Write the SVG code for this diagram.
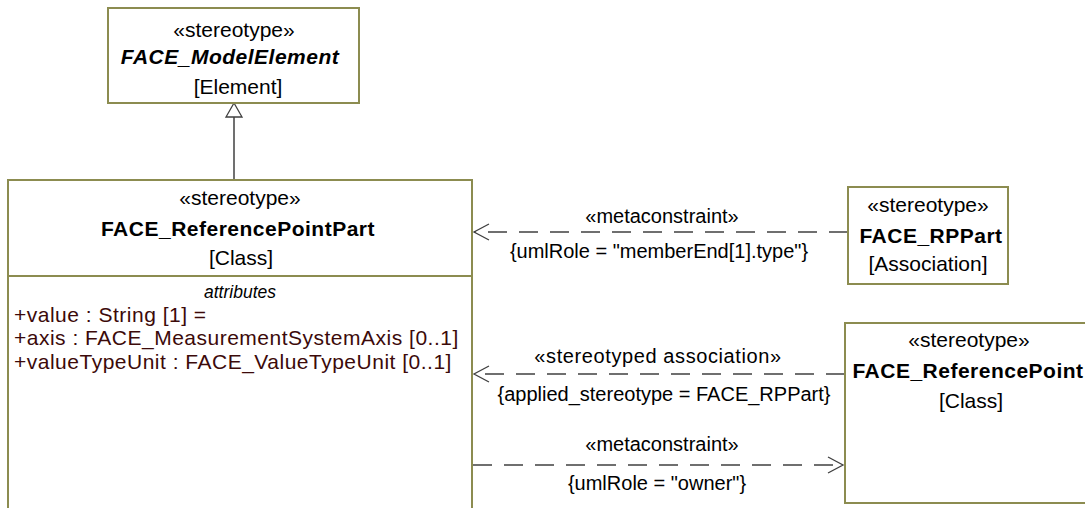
<svg xmlns="http://www.w3.org/2000/svg" width="1085" height="508" viewBox="0 0 1085 508">
<style>
.box{fill:#fff;stroke:#8c8c50;stroke-width:2}
text{font-family:"Liberation Sans",Arial,sans-serif;font-size:21px;fill:#000}
.c{text-anchor:middle}
.ls{letter-spacing:0.5px}
.b{font-weight:bold}
.bi{font-weight:bold;font-style:italic}
.attr{fill:#3c0a0a;letter-spacing:0.5px}
.it{font-style:italic;font-size:17.5px}
.lbl{font-size:20px}
.dash{fill:none;stroke:#404040;stroke-width:1.3;stroke-dasharray:19 12}
.ah{fill:none;stroke:#404040;stroke-width:1.3}
</style>
<rect width="1085" height="508" fill="#fff"/>
<g id="connectors">
<line x1="234" y1="117" x2="234" y2="180" stroke="#404040" stroke-width="1.5"/>
<polygon points="234,103 226,117 242,117" fill="#fff" stroke="#404040" stroke-width="1.3"/>
<line class="dash" x1="848" y1="232" x2="474" y2="232"/>
<polyline class="ah" points="489,224 474,232 489,240"/>
<text class="c lbl" x="662" y="223">«metaconstraint»</text>
<text class="c lbl" x="659" y="258">{umlRole = "memberEnd[1].type"}</text>
<line class="dash" x1="845" y1="374" x2="474" y2="374"/>
<polyline class="ah" points="489,366 474,374 489,382"/>
<text class="c lbl" x="658" y="363" style="letter-spacing:0.6px">«stereotyped association»</text>
<text class="c lbl" x="664" y="401">{applied_stereotype = FACE_RPPart}</text>
<line class="dash" x1="473" y1="465" x2="843" y2="465"/>
<polyline class="ah" points="828,457 843,465 828,473"/>
<text class="c lbl" x="662" y="451">«metaconstraint»</text>
<text class="c lbl" x="657" y="490">{umlRole = "owner"}</text>
</g>
<g id="FACE_ModelElement">
<rect class="box" x="108" y="8" width="251" height="95"/>
<text class="c" x="234" y="37">«stereotype»</text>
<text class="c bi ls" x="230" y="64">FACE_ModelElement</text>
<text class="c" x="238" y="94">[Element]</text>
</g>
<g id="FACE_ReferencePointPart">
<rect class="box" x="8" y="180" width="464" height="340"/>
<line x1="8" y1="276" x2="472" y2="276" stroke="#8c8c50" stroke-width="2"/>
<text class="c" x="240" y="205">«stereotype»</text>
<text class="c b ls" x="238" y="236">FACE_ReferencePointPart</text>
<text class="c" x="241" y="265">[Class]</text>
<text class="c it" x="240" y="298">attributes</text>
<text class="attr" x="14" y="322">+value : String [1] =</text>
<text class="attr" x="14" y="345">+axis : FACE_MeasurementSystemAxis [0..1]</text>
<text class="attr" x="14" y="369">+valueTypeUnit : FACE_ValueTypeUnit [0..1]</text>
</g>
<g id="FACE_RPPart">
<rect class="box" x="848" y="187" width="160" height="97"/>
<text class="c" x="928" y="212">«stereotype»</text>
<text class="c b ls" x="931" y="243">FACE_RPPart</text>
<text class="c" x="928" y="271">[Association]</text>
</g>
<g id="FACE_ReferencePoint">
<rect class="box" x="845" y="323" width="250" height="180"/>
<text class="c" x="969" y="347">«stereotype»</text>
<text class="c b ls" x="968" y="378">FACE_ReferencePoint</text>
<text class="c" x="971" y="408">[Class]</text>
</g>
</svg>
